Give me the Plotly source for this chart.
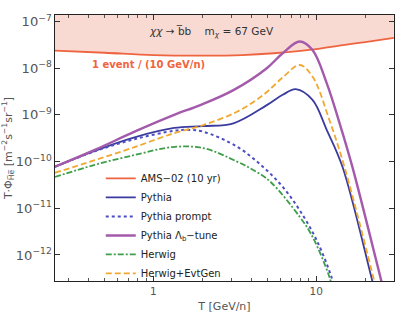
import plotly.graph_objects as go
import numpy as np

# ---- data (T in GeV/n, T*Phi in m^-2 s^-1 sr^-1) ----
T_ams = [0.248, 0.5, 1.0, 2.0, 3.5, 5.5, 10, 15, 20, 30]
phi_ams = [2.37e-8, 2.14e-8, 1.91e-8, 1.86e-8, 1.91e-8, 2.09e-8, 2.57e-8, 3.16e-8, 3.63e-8, 4.47e-8]
phi_band_top = [1e-6] * len(T_ams)

T_pythia = [0.248, 0.436, 0.765, 1.34, 2.02, 3.1, 4.97, 6.22, 7.5, 9.49, 11.6, 14.5, 22.1, 24.5]
phi_pythia = [7.76e-11, 1.70e-10, 3.31e-10, 5.25e-10, 5.75e-10, 6.61e-10, 1.62e-9, 2.69e-9,
              3.55e-9, 2.09e-9, 4.79e-10, 7.76e-11, 2.82e-13, 7.1e-14]

T_prompt = [0.248, 0.436, 0.765, 1.34, 1.6, 2.02, 3.26, 4.70, 6.22, 7.91, 10.05, 12.4, 13.6]
phi_prompt = [7.76e-11, 1.66e-10, 3.02e-10, 4.57e-10, 4.79e-10, 4.37e-10, 2.09e-10, 7.76e-11,
              2.88e-11, 9.12e-12, 2.09e-12, 3.39e-13, 1.0e-13]

T_lambda = [0.248, 0.436, 0.765, 1.34, 1.94, 3.1, 4.97, 6.22, 7.91, 9.49, 11.6, 13.9, 16.7, 25.1, 27.5]
phi_lambda = [7.76e-11, 1.78e-10, 4.37e-10, 1.0e-9, 1.62e-9, 3.39e-9, 1.0e-8, 2.09e-8, 3.72e-8,
              2.45e-8, 4.79e-9, 6.76e-10, 7.59e-11, 2.82e-13, 7.9e-14]

T_herwig = [0.248, 0.436, 0.765, 1.3, 2.02, 3.26, 4.2, 5.19, 7.91, 9.49, 12.05, 13.2]
phi_herwig = [4.68e-11, 8.51e-11, 1.38e-10, 2.04e-10, 1.95e-10, 1.0e-10, 6.31e-11, 3.80e-11,
              6.61e-12, 2.45e-12, 3.39e-13, 1.0e-13]

T_evtgen = [0.248, 0.436, 0.765, 1.34, 2.02, 3.26, 4.70, 6.22, 7.91, 9.49, 12.05, 14.9, 22.7, 24.8]
phi_evtgen = [5.75e-11, 1.07e-10, 2.04e-10, 4.07e-10, 6.03e-10, 1.17e-9, 2.63e-9, 6.31e-9,
              1.17e-8, 6.61e-9, 7.76e-10, 7.76e-11, 2.82e-13, 7.9e-14]

x_ticks = [1, 10]
x_ticktext = ["1", "10"]
x_minor = [0.3, 0.4, 0.5, 0.6, 0.7, 0.8, 0.9, 2, 3, 4, 5, 6, 7, 8, 9, 20, 30]

# ---- styles ----
C_AMS = "#EF6440"
C_FILL = "rgba(248,212,202,0.85)"
C_PY = "#3B3B9F"
C_PROMPT = "#4D4DC4"
C_LAM = "#A45AAA"
C_HER = "#3E9E4A"
C_EVT = "#F0A830"
FONT = "DejaVu Sans"

fig = go.Figure()
# band above the AMS sensitivity line
fig.add_trace(go.Scatter(x=T_ams, y=phi_band_top, mode="lines", line=dict(width=0),
                         showlegend=False, hoverinfo="skip"))
fig.add_trace(go.Scatter(x=T_ams, y=phi_ams, mode="lines", line=dict(width=0, shape="spline"),
                         fill="tonexty", fillcolor=C_FILL, showlegend=False, hoverinfo="skip"))

fig.add_trace(go.Scatter(x=T_ams, y=phi_ams, mode="lines", name="AMS\u221202 (10 yr)",
                         line=dict(color=C_AMS, width=1.8, shape="spline")))
fig.add_trace(go.Scatter(x=T_pythia, y=phi_pythia, mode="lines", name="Pythia",
                         line=dict(color=C_PY, width=1.8, shape="spline")))
fig.add_trace(go.Scatter(x=T_prompt, y=phi_prompt, mode="lines", name="Pythia prompt",
                         line=dict(color=C_PROMPT, width=2, dash="dot", shape="spline")))
fig.add_trace(go.Scatter(x=T_lambda, y=phi_lambda, mode="lines",
                         name="Pythia \u039b<sub>b</sub>\u2212tune",
                         line=dict(color=C_LAM, width=2.4, shape="spline")))
fig.add_trace(go.Scatter(x=T_herwig, y=phi_herwig, mode="lines", name="Herwig",
                         line=dict(color=C_HER, width=1.8, dash="6px,2px,2px,2px", shape="spline")))
fig.add_trace(go.Scatter(x=T_evtgen, y=phi_evtgen, mode="lines", name="Herwig+EvtGen",
                         line=dict(color=C_EVT, width=1.8, dash="6px,3px", shape="spline")))

axis_common = dict(showgrid=False, zeroline=False, showline=True, linecolor="#222", linewidth=1.2,
                   mirror="allticks", ticks="inside", ticklen=5, tickcolor="#333",
                   tickfont=dict(family=FONT, size=10.5, color="#555"))

fig.update_xaxes(type="log", range=[-0.605, 1.478], tickvals=x_ticks, ticktext=x_ticktext,
                 minor=dict(ticks="inside", ticklen=2.5, tickcolor="#555", tickvals=x_minor),
                 title=dict(text="T [GeV/n]", font=dict(family=FONT, size=11, color="#555"), standoff=6),
                 **axis_common)
fig.update_yaxes(type="log", range=[-12.557, -6.861], dtick=1, exponentformat="power",
                 title=dict(text="T\u00b7\u03a6<sub>H\u0305e\u0305</sub> [m<sup>\u22122</sup>s<sup>\u22121</sup>sr<sup>\u22121</sup>]",
                            font=dict(family=FONT, size=11, color="#555"), standoff=4),
                 **axis_common)

fig.add_annotation(x=np.log10(0.93), y=-7.93, xref="x", yref="y", showarrow=False,
                   text="<b>1 event / (10 GeV/n)</b>", font=dict(family=FONT, size=10, color=C_AMS))
fig.add_annotation(x=np.log10(2.26), y=-7.225, xref="x", yref="y", showarrow=False,
                   text="<i>\u03c7\u03c7</i> \u2192 b\u0305b\u00a0\u00a0\u00a0 m<sub><i>\u03c7</i></sub> = 67 GeV",
                   font=dict(family=FONT, size=10.5, color="#333"))

fig.update_layout(width=399, height=316, margin=dict(l=54, r=4, t=15, b=35),
                  paper_bgcolor="white", plot_bgcolor="white",
                  font=dict(family=FONT, color="#222"),
                  legend=dict(x=0.135, y=0.44, xanchor="left", yanchor="top", bgcolor="rgba(0,0,0,0)",
                              traceorder="normal",
                              font=dict(family=FONT, size=10, color="#222"), tracegroupgap=0))

fig.write_html("out.html", config={"displayModeBar": False},
               post_script="document.body.style.margin='0';")
